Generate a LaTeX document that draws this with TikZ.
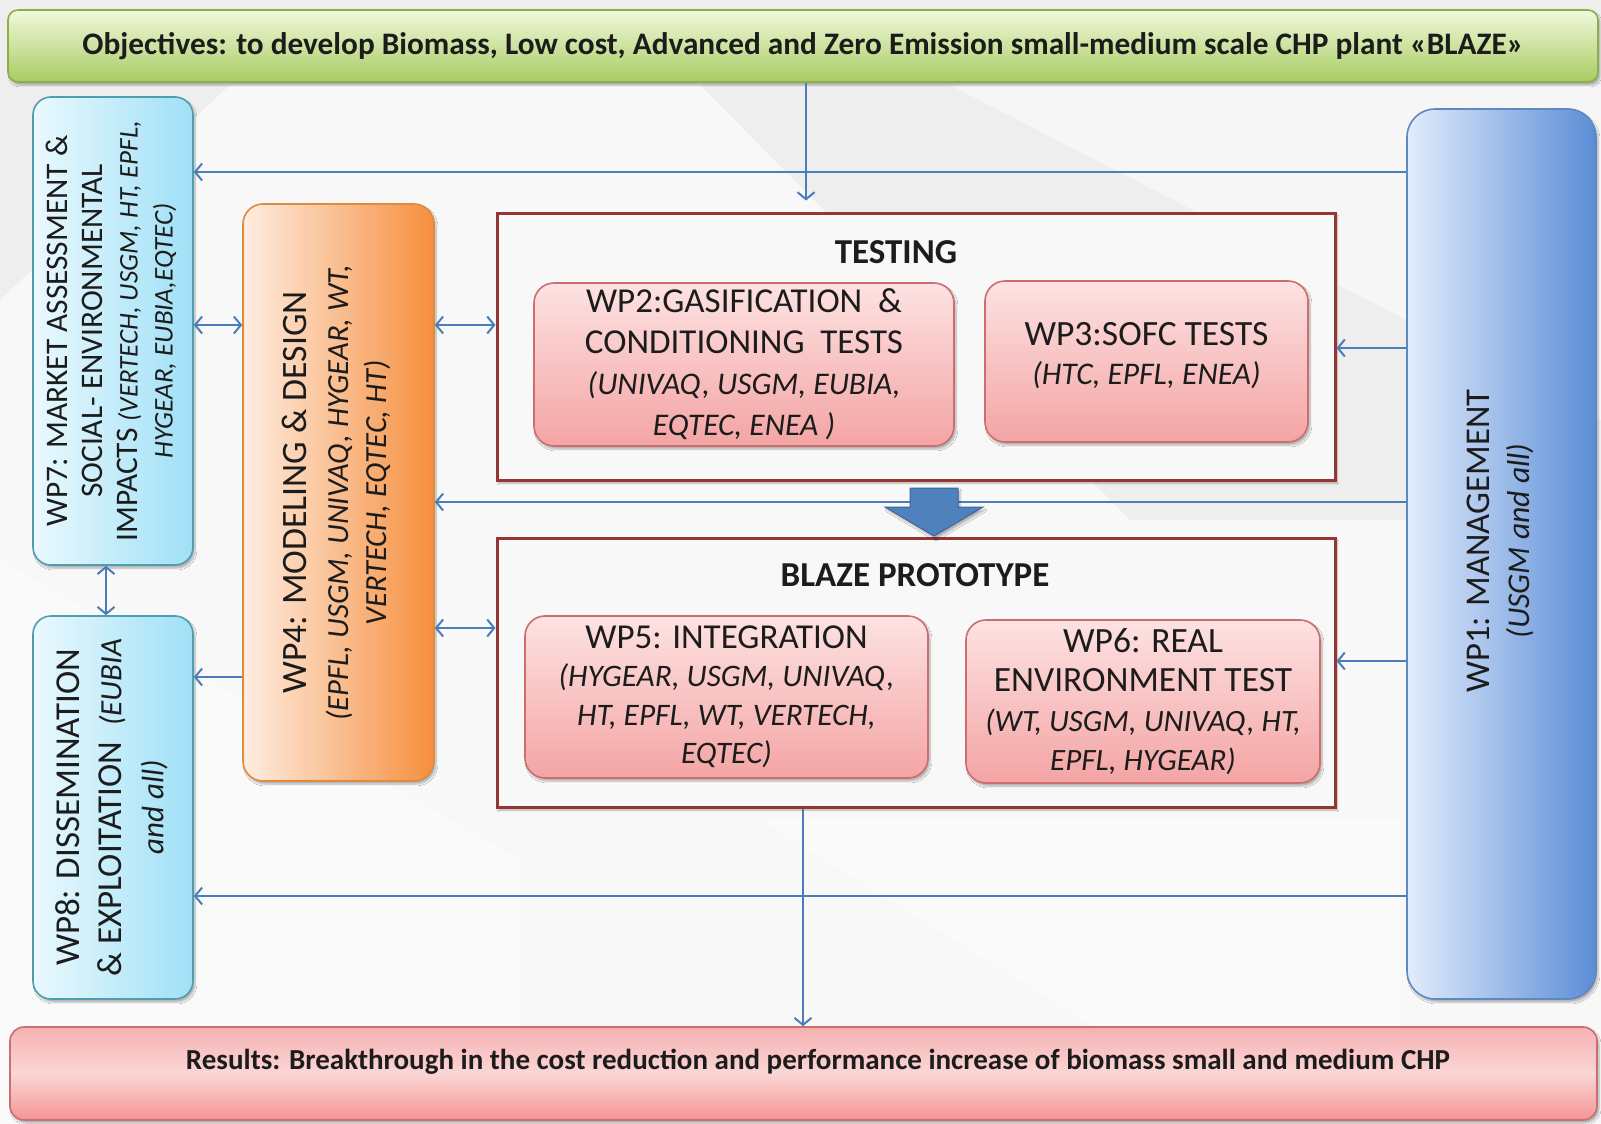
\documentclass[tikz,border=0pt]{standalone}
\usepackage{fontspec}
\usepackage{graphicx}
\setmainfont{Carlito}
\usetikzlibrary{arrows.meta,shadows.blur}

\definecolor{bgcol}{HTML}{EEEEEE}
\definecolor{framefill}{HTML}{F8F8F8}
\definecolor{inkcol}{HTML}{1C1C1C}
\definecolor{linkblue}{HTML}{4A7DBA}
\definecolor{objtop}{HTML}{F1F9DC}
\definecolor{objbot}{HTML}{A8CB62}
\definecolor{objborder}{HTML}{8DAE4C}
\definecolor{cyanl}{HTML}{EAF9FE}
\definecolor{cyanr}{HTML}{9FE0F6}
\definecolor{cyanborder}{HTML}{4F9EAE}
\definecolor{orl}{HTML}{FEEDE0}
\definecolor{orm}{HTML}{FBCBA3}
\definecolor{orr}{HTML}{F58F3E}
\definecolor{orborder}{HTML}{E08A40}
\definecolor{bll}{HTML}{E2ECFC}
\definecolor{blm}{HTML}{C4D8F7}
\definecolor{blr}{HTML}{5A8DD6}
\definecolor{blborder}{HTML}{5E88C0}
\definecolor{pkt}{HTML}{FDE2E2}
\definecolor{pkb}{HTML}{F4A4A4}
\definecolor{pkborder}{HTML}{CC6E6E}
\definecolor{framered}{HTML}{943634}
\definecolor{bigblue}{HTML}{4F81BD}
\definecolor{bigblueedge}{HTML}{3A65A0}

% a block of centred lines turned to read upwards
\newcommand{\rotlines}[1]{\rotatebox{90}{\begin{tabular}{@{}c@{}}#1\end{tabular}}}
% partner list in italics at a given size
\newcommand{\who}[2]{{\fontsize{#1}{0}\selectfont\itshape #2}}

\tikzset{
  box/.style={rounded corners=18pt, line width=1.6pt, inner sep=0pt, text=inkcol,
    blur shadow={shadow xshift=2pt, shadow yshift=-3pt, shadow opacity=30, shadow blur steps=6}},
  cyanbox/.style={box, draw=cyanborder, left color=cyanl, right color=cyanr},
  pinkbox/.style={box, rounded corners=20pt, draw=pkborder, top color=pkt, bottom color=pkb, align=center},
  framebox/.style={draw=framered, line width=3pt, fill=framefill, inner sep=0pt,
    blur shadow={shadow xshift=2pt, shadow yshift=-3pt, shadow opacity=30, shadow blur steps=6}},
  tip/.tip={Straight Barb[length=7pt, width=17pt, line width=2pt]},
  arr/.style={draw=linkblue, line width=2.2pt, -tip},
  darr/.style={draw=linkblue, line width=2.2pt, tip-tip},
}

\begin{document}
\begin{tikzpicture}[x=1pt, y=-1pt]
\useasboundingbox (0,0) rectangle (1601,1124);
\fill[bgcol] (0,0) rectangle (1601,1124);
% soft light streaks in the backdrop
\fill[white, opacity=0.6] (0,300) -- (230,85) -- (700,85) -- (1130,520) -- (1601,520) -- (1601,1124) -- (0,1124) -- cycle;
\fill[white, opacity=0.5] (950,85) -- (1601,85) -- (1601,420) -- cycle;
\fill[white, opacity=0.4] (0,560) -- (520,860) -- (520,1124) -- (0,1124) -- cycle;
\fill[white, opacity=0.4] (760,820) -- (1400,820) -- (1400,1030) -- (1100,1030) -- cycle;

% objectives banner
\node[box, rounded corners=10pt, draw=objborder, top color=objtop, bottom color=objbot,
  minimum width=1590pt, minimum height=72pt, font=\bfseries\fontsize{31.3}{36}\selectfont]
  (obj) at (803,46) {Objectives: to develop Biomass, Low cost, Advanced and Zero Emission small-medium scale CHP plant «BLAZE»};

% results banner
\node[box, rounded corners=14pt, draw=pkborder, top color=pkb!85, bottom color=pkb!90!red, middle color=pkt!80!pkb,
  minimum width=1587pt, minimum height=93pt] (res) at (803.5,1073.5) {};
\node[font=\bfseries\fontsize{29}{34}\selectfont, text=inkcol] (restext) at (818,1062)
  {Results: Breakthrough in the cost reduction and performance increase of biomass small and medium CHP};

% side work packages
\node[cyanbox, minimum width=160pt, minimum height=468pt] (wp7) at (113,331)
  {\fontsize{31.4}{35}\selectfont\rotlines{WP7: MARKET ASSESSMENT \&\\ SOCIAL- ENVIRONMENTAL\\
   IMPACTS \who{27}{(VERTECH, USGM, HT, EPFL,}\\ \who{27}{HYGEAR, EUBIA,EQTEC)}}};
\node[cyanbox, minimum width=160pt, minimum height=383pt] (wp8) at (113,807.5)
  {\fontsize{35}{42}\selectfont\rotlines{WP8: DISSEMINATION\\ \& EXPLOITATION \ \who{31}{(EUBIA}\\ \who{31}{and all)}}};
\node[box, rounded corners=20pt, draw=orborder, left color=orl, middle color=orm, right color=orr,
  minimum width=191pt, minimum height=577pt] (wp4) at (338.5,492.5)
  {\fontsize{30.7}{38}\selectfont\rotlines{{\fontsize{35.7}{38}\selectfont WP4: MODELING \& DESIGN}\\[4pt]
   \who{30.7}{(EPFL, USGM, UNIVAQ, HYGEAR, WT,}\\ \who{30.7}{VERTECH, EQTEC, HT)}}};
\node[box, rounded corners=28pt, draw=blborder, left color=bll, middle color=blm, right color=blr,
  minimum width=189pt, minimum height=890pt] (wp1) at (1501.5,554)
  {\fontsize{34.7}{40}\selectfont\rotlines{\hspace*{26pt}WP1: MANAGEMENT\\ \hspace*{26pt}\who{31.7}{(USGM and all)}}};

% testing stage
\node[framebox, minimum width=838pt, minimum height=267pt] (testing) at (916,346.5) {};
\node[font=\bfseries\fontsize{35}{40}\selectfont, text=inkcol] (testingtitle) at (896,252) {TESTING};
\node[pinkbox, minimum width=420pt, minimum height=163pt, font=\fontsize{35}{41}\selectfont] (wp2) at (744,364.5)
  {WP2:GASIFICATION \ \&\\ CONDITIONING \ TESTS\\ \who{31.5}{(UNIVAQ, USGM, EUBIA,}\\ \who{31.5}{EQTEC, ENEA )}};
\node[pinkbox, minimum width=323pt, minimum height=161pt, font=\fontsize{35.5}{39}\selectfont] (wp3) at (1146.5,361.5)
  {WP3:SOFC TESTS\\ \who{31.5}{(HTC, EPFL, ENEA)}\\[-23pt]\mbox{}};

% prototype stage
\node[framebox, minimum width=838pt, minimum height=269pt] (blaze) at (916,672.5) {};
\node[font=\bfseries\fontsize{35}{40}\selectfont, text=inkcol] (blazetitle) at (915,575) {BLAZE PROTOTYPE};
\node[pinkbox, minimum width=403pt, minimum height=162pt, font=\fontsize{35}{38.5}\selectfont] (wp5) at (726.5,697)
  {WP5: INTEGRATION\\ \who{31.3}{(HYGEAR, USGM, UNIVAQ,}\\ \who{31.3}{HT, EPFL, WT, VERTECH,}\\ \who{31.3}{EQTEC)}};
\node[pinkbox, minimum width=354pt, minimum height=163pt, font=\fontsize{35.5}{39.5}\selectfont] (wp6) at (1143,701.5)
  {WP6: REAL\\ ENVIRONMENT TEST\\ \who{31}{(WT, USGM, UNIVAQ, HT,}\\ \who{31}{EPFL, HYGEAR)}};

% connector levels
\coordinate (l172) at (0,172);
\coordinate (l325) at (0,325);
\coordinate (l348) at (0,348);
\coordinate (l502) at (0,502);
\coordinate (l628) at (0,628);
\coordinate (l661) at (0,661);
\coordinate (l677) at (0,677);
\coordinate (l896) at (0,896);
\coordinate (vA) at (806,0);
\coordinate (vB) at (803,0);
\coordinate (vC) at (106,0);

% connectors
\draw[arr, shorten >=11pt] (obj.south -| vA) -- (testing.north -| vA);
\draw[arr] (wp1.west |- l172) -- (wp7.east |- l172);
\draw[darr] (wp7.east |- l325) -- (wp4.west |- l325);
\draw[darr] (wp4.east |- l325) -- (testing.west |- l325);
\draw[arr] (wp1.west |- l348) -- (testing.east |- l348);
\draw[arr] (wp1.west |- l502) -- (wp4.east |- l502);
\draw[darr] (wp7.south -| vC) -- (wp8.north -| vC);
\draw[darr] (wp4.east |- l628) -- (blaze.west |- l628);
\draw[arr] (wp1.west |- l661) -- (blaze.east |- l661);
\draw[arr] (wp4.west |- l677) -- (wp8.east |- l677);
\draw[arr] (blaze.south -| vB) -- (res.north -| vB);
\draw[arr] (wp1.west |- l896) -- (wp8.east |- l896);

% block arrow from testing to prototype
\filldraw[fill=bigblue, draw=bigblueedge, line width=1pt,
  blur shadow={shadow xshift=2pt, shadow yshift=-3pt, shadow opacity=30}]
  (910,488) -- (958,488) -- (958,507) -- (983,507) -- (934,536) -- (885,507) -- (910,507) -- cycle;
\end{tikzpicture}
\end{document}
